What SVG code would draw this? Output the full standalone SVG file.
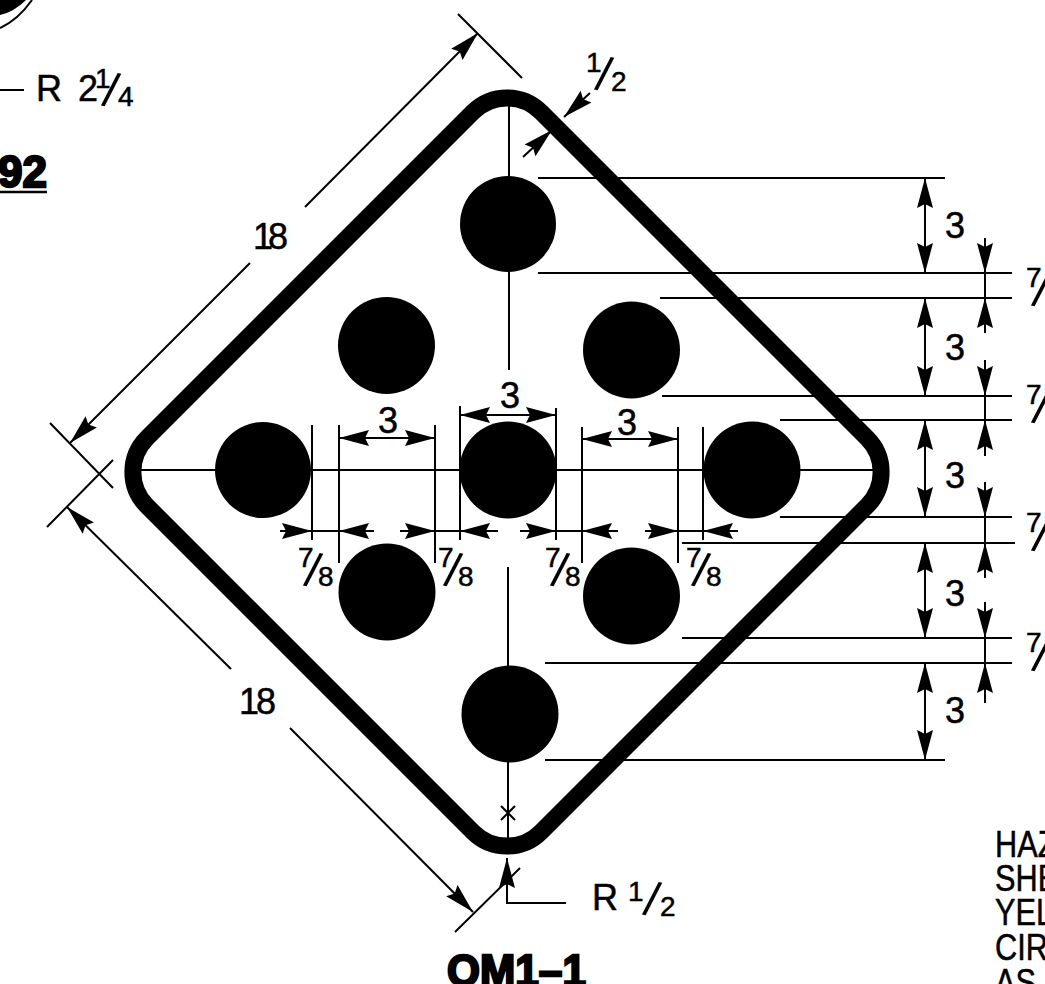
<svg xmlns="http://www.w3.org/2000/svg" width="1045" height="984" viewBox="0 0 1045 984">
<style>
text{font-family:"Liberation Sans",Arial,sans-serif;fill:#000;stroke:#000;stroke-width:.5px}
.t{font-size:36px}
.n{font-size:28px}
.s{font-size:48px;stroke-width:0}
.h{font-size:37px}
.b{font-weight:bold;font-size:44px;stroke-width:2.400px}
.l{stroke:#000;stroke-width:2;fill:none}
.a{marker-end:url(#ah)}
.d{marker-start:url(#ah);marker-end:url(#ah)}
</style>
<defs>
<marker id="ah" viewBox="-31 -9 32 18" markerUnits="userSpaceOnUse" markerWidth="32" markerHeight="18" refX="0" refY="0" orient="auto-start-reverse">
<path d="M0,0 L-30,-8 L-26,0 L-30,8 Z" fill="#000"/>
</marker>
</defs>
<rect width="1045" height="984" fill="#fff"/>
<g id="corner-fragment">
<path d="M0,0 L26,0 Q14,12 0,15 Z" fill="#000"/>
<path d="M0,28 Q18,20 32,0" class="l"/>
</g>
<g id="sign">
<path d="M473,112 A48,48 0 0 1 541,112 L867,438 A48,48 0 0 1 867,506 L541,832 A48,48 0 0 1 473,832 L147,506 A48,48 0 0 1 147,438 Z" fill="none" stroke="#000" stroke-width="17" stroke-linejoin="round"/>
<g fill="#000">
<circle cx="508" cy="224" r="48"/>
<circle cx="386.500" cy="345.500" r="48.500"/>
<circle cx="631.500" cy="350" r="48.500"/>
<circle cx="263" cy="470" r="48"/>
<circle cx="508" cy="470" r="48.500"/>
<circle cx="752" cy="470" r="48.500"/>
<circle cx="387" cy="592" r="48.500"/>
<circle cx="631.500" cy="596" r="48.500"/>
<circle cx="510" cy="714" r="48.500"/>
</g>
</g>
<g id="connectors">
<path class="l" d="M509,105V176M509,272V370M508,567V668M508,762V845M501,806L515,820M515,806L501,820"/>
<path class="l" d="M140,470H215M312,470H460M556,470H703M800,470H880"/>
<path class="l" d="M538,178H945M538,273H1012M660,298H1012M662,396H1012M780,420H1012M780,517H1012M682,543H1015M682,638H1012M545,663H1012M545,760H945"/>
<path class="l" d="M312,425V540M339,425V563M435,425V563M460,406V540M556,408V540M582,427V563M678,427V563M703,427V540"/>
<line class="l d" x1="339" y1="438" x2="435" y2="438"/>
<line class="l d" x1="460" y1="415" x2="556" y2="415"/>
<line class="l d" x1="582" y1="439" x2="678" y2="439"/>
<line class="l a" x1="280" y1="531" x2="312" y2="531"/>
<line class="l" x1="312" y1="531" x2="339" y2="531"/>
<line class="l a" x1="374" y1="531" x2="339" y2="531"/>
<line class="l a" x1="400" y1="531" x2="435" y2="531"/>
<line class="l" x1="435" y1="531" x2="460" y2="531"/>
<line class="l a" x1="498" y1="531" x2="460" y2="531"/>
<line class="l a" x1="520" y1="531" x2="556" y2="531"/>
<line class="l" x1="556" y1="531" x2="582" y2="531"/>
<line class="l a" x1="618" y1="531" x2="582" y2="531"/>
<line class="l a" x1="645" y1="531" x2="678" y2="531"/>
<line class="l" x1="678" y1="531" x2="703" y2="531"/>
<line class="l a" x1="738" y1="531" x2="703" y2="531"/>
<line class="l d" x1="925" y1="178" x2="925" y2="273"/>
<line class="l d" x1="925" y1="298" x2="925" y2="396"/>
<line class="l d" x1="925" y1="420" x2="925" y2="517"/>
<line class="l d" x1="925" y1="543" x2="925" y2="638"/>
<line class="l d" x1="925" y1="663" x2="925" y2="760"/>
<line class="l a" x1="985" y1="238" x2="985" y2="273"/>
<line class="l" x1="985" y1="273" x2="985" y2="298"/>
<line class="l a" x1="985" y1="333" x2="985" y2="298"/>
<line class="l a" x1="985" y1="360" x2="985" y2="396"/>
<line class="l" x1="985" y1="396" x2="985" y2="420"/>
<line class="l a" x1="985" y1="456" x2="985" y2="420"/>
<line class="l a" x1="985" y1="482" x2="985" y2="517"/>
<line class="l" x1="985" y1="517" x2="985" y2="543"/>
<line class="l a" x1="985" y1="578" x2="985" y2="543"/>
<line class="l a" x1="985" y1="602" x2="985" y2="638"/>
<line class="l" x1="985" y1="638" x2="985" y2="663"/>
<line class="l a" x1="985" y1="703" x2="985" y2="663"/>
<path class="l" d="M458,14L522,78M50,423L113,488M47,527L113,460M455,932L520,868"/>
<line class="l a" x1="250" y1="263" x2="70" y2="443"/>
<line class="l a" x1="305" y1="207" x2="478" y2="33"/>
<line class="l a" x1="231" y1="669" x2="67" y2="507"/>
<line class="l a" x1="290" y1="728" x2="473" y2="912"/>
<line class="l a" x1="523" y1="157" x2="552" y2="130"/>
<line class="l a" x1="590" y1="93" x2="564" y2="117"/>
<line class="l a" x1="507" y1="903" x2="507" y2="858"/>
<path class="l" d="M507,900V903H566M0,90H24"/>
<path d="M0,192H47" stroke="#000" stroke-width="2.500"/>
</g>
<g id="labels">
<text class="t" x="36" y="101">R</text>
<text><tspan class="t" x="78" y="101">2</tspan><tspan class="n" x="95" y="88">1</tspan><tspan class="s" x="101" y="105" rotate="12">/</tspan><tspan class="n" x="118" y="106">4</tspan></text>
<text class="b" x="47" y="187" text-anchor="end">92</text>
<text><tspan class="t" x="253" y="249">1</tspan><tspan class="t" x="268" y="249">8</tspan></text>
<text><tspan class="t" x="239" y="714">1</tspan><tspan class="t" x="256" y="714">8</tspan></text>
<text><tspan class="n" x="586" y="72">1</tspan><tspan class="s" x="594" y="89" rotate="12">/</tspan><tspan class="n" x="611" y="91">2</tspan></text>
<text class="t" x="592" y="910">R</text>
<text><tspan class="n" x="628" y="901">1</tspan><tspan class="s" x="642" y="914" rotate="12">/</tspan><tspan class="n" x="660" y="916">2</tspan></text>
<text class="t" x="378" y="433">3</text>
<text class="t" x="500" y="408">3</text>
<text class="t" x="617" y="435">3</text>
<text class="t" x="945" y="238">3</text>
<text class="t" x="945" y="360">3</text>
<text class="t" x="945" y="488">3</text>
<text class="t" x="945" y="606">3</text>
<text class="t" x="945" y="723">3</text>
<text><tspan class="n" x="298" y="567">7</tspan><tspan class="s" x="303" y="585" rotate="12">/</tspan><tspan class="n" x="318" y="586">8</tspan></text>
<text><tspan class="n" x="438" y="567">7</tspan><tspan class="s" x="443" y="585" rotate="12">/</tspan><tspan class="n" x="458" y="586">8</tspan></text>
<text><tspan class="n" x="545" y="567">7</tspan><tspan class="s" x="550" y="585" rotate="12">/</tspan><tspan class="n" x="565" y="586">8</tspan></text>
<text><tspan class="n" x="686" y="567">7</tspan><tspan class="s" x="691" y="585" rotate="12">/</tspan><tspan class="n" x="706" y="586">8</tspan></text>
<text><tspan class="n" x="1026" y="287">7</tspan><tspan class="s" x="1031" y="305" rotate="12">/</tspan></text>
<text><tspan class="n" x="1026" y="404">7</tspan><tspan class="s" x="1031" y="422" rotate="12">/</tspan></text>
<text><tspan class="n" x="1026" y="532">7</tspan><tspan class="s" x="1031" y="550" rotate="12">/</tspan></text>
<text><tspan class="n" x="1026" y="652">7</tspan><tspan class="s" x="1031" y="670" rotate="12">/</tspan></text>
<text class="b" x="447" y="986" textLength="139" lengthAdjust="spacingAndGlyphs">OM1–1</text>
<g transform="translate(995,0) scale(.83,1)">
<text class="h" x="0" y="857">HAZ</text>
<text class="h" x="0" y="891">SHE</text>
<text class="h" x="0" y="925">YEL</text>
<text class="h" x="0" y="960">CIR</text>
<text class="h" x="0" y="995">AS</text>
</g>
</g>
</svg>
